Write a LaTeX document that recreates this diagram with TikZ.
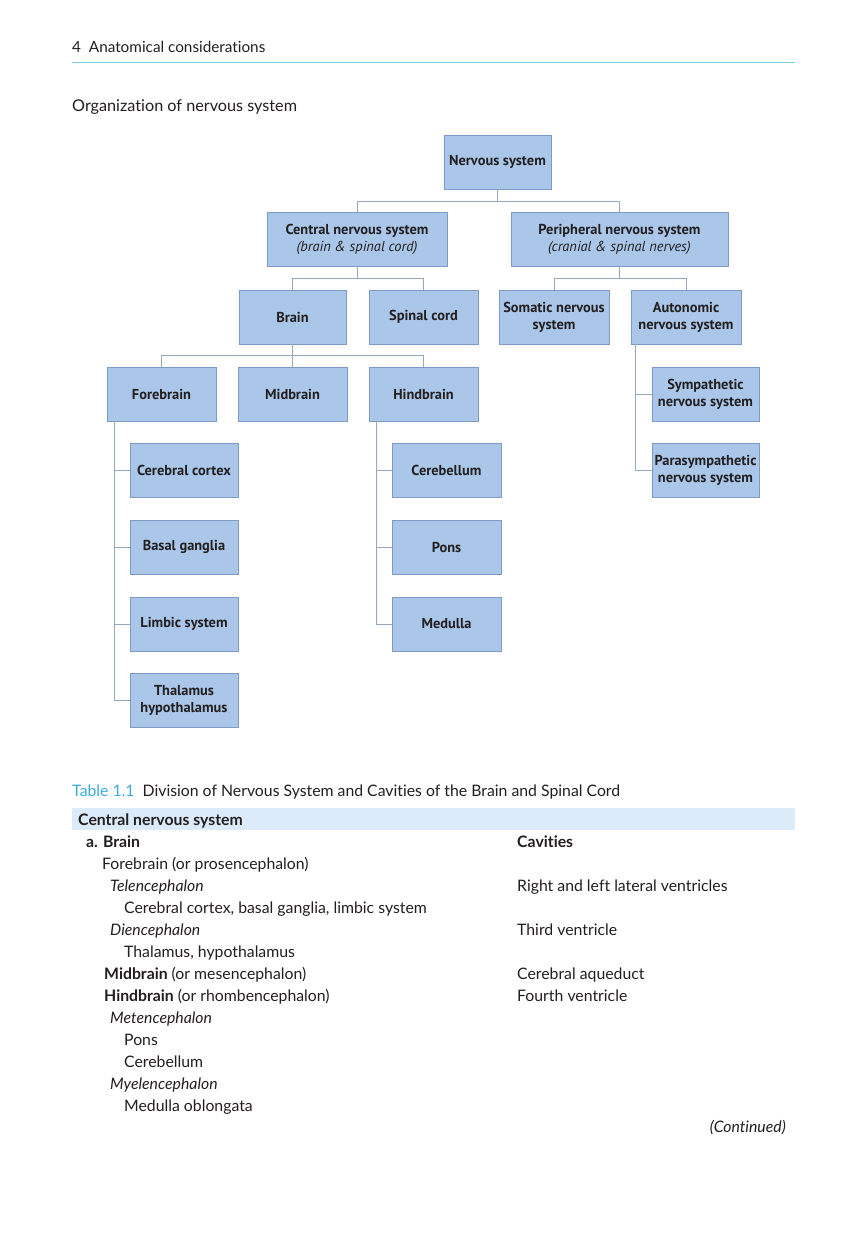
\documentclass[tikz,border=0pt]{standalone}
\usepackage{fontspec}
\setmainfont[Ligatures={NoCommon}]{Lato}
\newfontfamily\boxfont{PT Sans}
\definecolor{boxfill}{RGB}{170,199,233}
\definecolor{boxline}{RGB}{125,155,195}
\definecolor{connline}{RGB}{150,168,190}
\definecolor{rulecol}{RGB}{125,208,218}
\definecolor{tabcol}{RGB}{60,172,222}
\definecolor{bandcol}{RGB}{219,235,250}
\definecolor{ink}{RGB}{35,31,32}
\begin{document}
\begin{tikzpicture}[x=1pt,y=-1pt,
  nbox/.style={draw=boxline, fill=boxfill, line width=0.8pt, minimum width=109pt, minimum height=54pt,
    inner sep=1pt, align=center, font=\boxfont\bfseries\fontsize{14.4}{17}\selectfont, text=ink},
  conn/.style={draw=connline, line width=0.9pt},
  txt/.style={anchor=base west, inner sep=0pt, text=ink, font=\fontsize{15.8}{18}\selectfont}]
\useasboundingbox (0,0) rectangle (867,1238);
\fill[white] (0,0) rectangle (867,1238);

% header
\node[txt, font=\fontsize{15.3}{18}\selectfont] (hdr) at (72,53) {4\ \ Anatomical considerations};
\draw[rulecol, line width=1pt] (72,63) -- (795,63);
\node[txt, font=\fontsize{16.2}{19}\selectfont] (title) at (72,112) {Organization of nervous system};

% boxes
\node[nbox, minimum width=107pt] (ns) at (497.5,162) {Nervous system};
\node[nbox, minimum width=180pt] (cns) at (357,239) {Central nervous system\\{\mdseries\itshape (brain \& spinal cord)}};
\node[nbox, minimum width=217pt] (pns) at (619.5,239) {Peripheral nervous system\\{\mdseries\itshape (cranial \& spinal nerves)}};
\node[nbox, minimum width=107pt] (brain) at (292.5,317) {Brain};
\node[nbox] (spinal) at (423.5,317) {Spinal cord};
\node[nbox, minimum width=110pt] (somatic) at (554,317) {Somatic nervous\\system};
\node[nbox, minimum width=110pt] (auto) at (686,317) {Autonomic\\nervous system};
\node[nbox] (fore) at (161.5,394) {Forebrain};
\node[nbox] (mid) at (292.5,394) {Midbrain};
\node[nbox] (hind) at (423.5,394) {Hindbrain};
\node[nbox, minimum width=108pt] (cc) at (184,470) {Cerebral cortex};
\node[nbox, minimum width=108pt] (bg) at (184,547) {Basal ganglia};
\node[nbox, minimum width=108pt] (ls) at (184,624) {Limbic system};
\node[nbox, minimum width=108pt] (th) at (184,700) {Thalamus\\hypothalamus};
\node[nbox] (cb) at (446.5,470) {Cerebellum};
\node[nbox] (pons) at (446.5,547) {Pons};
\node[nbox] (med) at (446.5,624) {Medulla};
\node[nbox, minimum width=107pt] (sym) at (705.5,394) {Sympathetic\\nervous system};
\node[nbox, minimum width=107pt] (para) at (705.5,470) {Parasympathetic\\nervous system};

% connectors
\draw[conn] (ns.south) -- ++(0,12) -| (cns.north);
\draw[conn] (ns.south) -- ++(0,12) -| (pns.north);
\draw[conn] (cns.south) -- ++(0,12) -| (brain.north);
\draw[conn] (cns.south) -- ++(0,12) -| (spinal.north);
\draw[conn] (pns.south) -- ++(0,12) -| (somatic.north);
\draw[conn] (pns.south) -- ++(0,12) -| (auto.north);
\draw[conn] (brain.south) -- ++(0,11) -| (fore.north);
\draw[conn] (brain.south) -- ++(0,11) -| (mid.north);
\draw[conn] (brain.south) -- ++(0,11) -| (hind.north);
\foreach \c in {cc,bg,ls,th}{\draw[conn] ([xshift=8pt]fore.south west) |- (\c.west);}
\foreach \c in {cb,pons,med}{\draw[conn] ([xshift=8pt]hind.south west) |- (\c.west);}
\foreach \c in {sym,para}{\draw[conn] ([xshift=5pt]auto.south west) |- (\c.west);}

% table
\node[txt] (tcap) at (72,796) {{\color{tabcol}Table 1.1}\ \ Division of Nervous System and Cavities of the Brain and Spinal Cord};
\fill[bandcol] (72,808) rectangle (795,830);
\node[txt, font=\fontsize{15.8}{18}\selectfont\bfseries] (r0) at (78,825) {Central nervous system};
\node[txt, font=\fontsize{15.8}{18}\selectfont\bfseries] (r1) at (86,847) {a. Brain};
\node[txt, font=\fontsize{15.8}{18}\selectfont\bfseries] (c1) at (517,847) {Cavities};
\node[txt] (r2) at (102,869) {Forebrain (or prosencephalon)};
\node[txt] (r3) at (110,891) {\itshape Telencephalon};
\node[txt] (c3) at (517,891) {Right and left lateral ventricles};
\node[txt] (r4) at (124,913) {Cerebral cortex, basal ganglia, limbic system};
\node[txt] (r5) at (110,935) {\itshape Diencephalon};
\node[txt] (c5) at (517,935) {Third ventricle};
\node[txt] (r6) at (124,957) {Thalamus, hypothalamus};
\node[txt] (r7) at (104,979) {\textbf{Midbrain} (or mesencephalon)};
\node[txt] (c7) at (517,979) {Cerebral aqueduct};
\node[txt] (r8) at (104,1001) {\textbf{Hindbrain} (or rhombencephalon)};
\node[txt] (c8) at (517,1001) {Fourth ventricle};
\node[txt] (r9) at (110,1023) {\itshape Metencephalon};
\node[txt] (r10) at (124,1045) {Pons};
\node[txt] (r11) at (124,1067) {Cerebellum};
\node[txt] (r12) at (110,1089) {\itshape Myelencephalon};
\node[txt] (r13) at (124,1111) {Medulla oblongata};
\node[txt, anchor=base east] (cont) at (786,1132) {\itshape (Continued)};
\end{tikzpicture}
\end{document}
